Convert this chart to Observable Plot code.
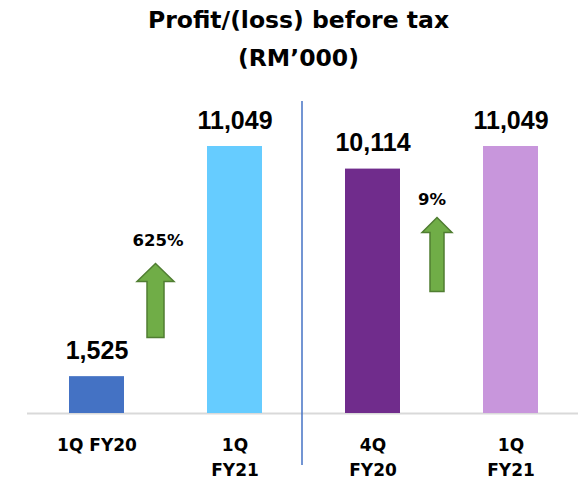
<!DOCTYPE html>
<html><head><meta charset="utf-8">
<script src="https://cdn.jsdelivr.net/npm/d3@7"></script>
<script src="https://cdn.jsdelivr.net/npm/@observablehq/plot@0.6"></script>
<style>
body{margin:0;background:#fff;font-family:"DejaVu Sans",sans-serif;}
#title{width:578px;height:80px;box-sizing:border-box;padding-top:1px;padding-left:19px;text-align:center;font-weight:bold;font-size:23.5px;line-height:38px;color:#000;}
</style></head><body>
<div id="title">Profit/(loss) before tax<br>(RM’000)</div>
<div id="chart"></div>
<script>
const categories = ["1Q FY20", "1Q FY21", "4Q FY20", "1Q FY21"];
const tickLabels = ["1Q FY20", "1Q\nFY21", "4Q\nFY20", "1Q\nFY21"];
const values = [1525, 11049, 10114, 11049];
const valueLabels = ["1,525", "11,049", "10,114", "11,049"];
const barColors = ["#4472C4", "#66CCFF", "#702C8C", "#C896DC"];
const growthLabels = ["625%", "9%"];
const growthFrom = [0, 2];

const rows = categories.map((c, i) => ({i, cat: c, value: values[i], label: valueLabels[i], tick: tickLabels[i], color: barColors[i]}));

function blockArrow(w, h, headH, shaftW) {
  return {draw(ctx) {
    const t = -h / 2, b = h / 2;
    ctx.moveTo(0, t);
    ctx.lineTo(w / 2, t + headH);
    ctx.lineTo(shaftW / 2, t + headH);
    ctx.lineTo(shaftW / 2, b);
    ctx.lineTo(-shaftW / 2, b);
    ctx.lineTo(-shaftW / 2, t + headH);
    ctx.lineTo(-w / 2, t + headH);
    ctx.closePath();
  }};
}

const textFont = "'DejaVu Sans', sans-serif";
const numFont = "'Liberation Sans', Arial, sans-serif";
const chart = Plot.plot({
  width: 578, height: 401,
  marginLeft: 54, marginRight: 25, marginTop: 66, marginBottom: 68,
  x: {type: "band", domain: d3.range(categories.length), paddingInner: 0.6, paddingOuter: 0.1, axis: null},
  y: {domain: [0, 11049], axis: null},
  style: {fontFamily: textFont, background: "white", color: "black"},
  marks: [
    Plot.ruleY([0], {stroke: "#d9d9d9", strokeWidth: 2, insetLeft: -27, insetRight: -25}),
    Plot.barY(rows, {x: "i", y: "value", fill: "color"}),
    Plot.ruleX([2], {x: d => d, stroke: "#4472C4", strokeWidth: 1.5, dx: -71, insetTop: -45, insetBottom: -52}),
    Plot.text(rows, {x: "i", y: "value", text: "label", dy: -26, fontSize: 25, fontWeight: "bold", fontFamily: numFont, lineAnchor: "middle", fill: "black"}),
    Plot.text(rows, {x: "i", text: "tick", frameAnchor: "bottom", lineAnchor: "top", dy: 20, fontSize: 17, fontWeight: "bold", lineHeight: 1.45, fill: "black"}),
    Plot.dot([growthLabels[0]], {x: () => growthFrom[0], y: () => 4676, dx: 58.5, symbol: blockArrow(37, 74, 18, 17), fill: "#70AD47", stroke: "#507E32", strokeWidth: 1.5}),
    Plot.dot([growthLabels[1]], {x: () => growthFrom[1], y: () => 6579, dx: 64, symbol: blockArrow(30, 74, 15, 14), fill: "#70AD47", stroke: "#507E32", strokeWidth: 1.5}),
    Plot.text([growthLabels[0]], {x: () => growthFrom[0], y: () => 4676, text: d => d, dx: 61, dy: -60, fontSize: 16.5, fontWeight: "bold", lineAnchor: "middle", fill: "black"}),
    Plot.text([growthLabels[1]], {x: () => growthFrom[1], y: () => 6579, text: d => d, dx: 59, dy: -55, fontSize: 16.5, fontWeight: "bold", lineAnchor: "middle", fill: "black"})
  ]
});
document.getElementById("chart").appendChild(chart);
</script>
</body></html>
